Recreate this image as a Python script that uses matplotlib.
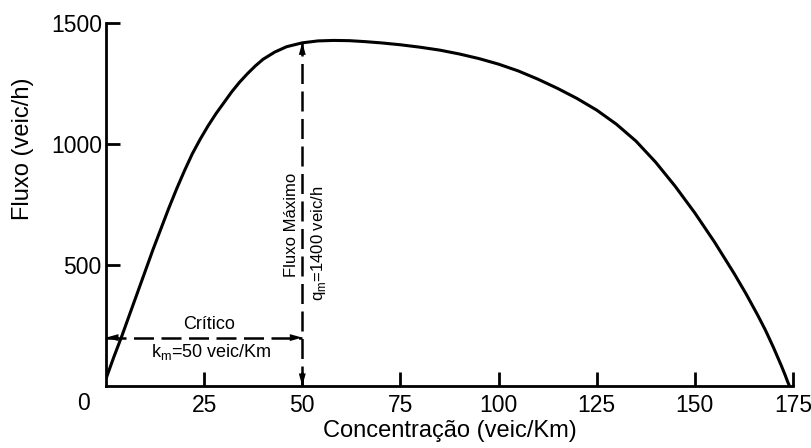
import matplotlib.pyplot as plt

plt.rcParams['font.family'] = ['Liberation Sans', 'DejaVu Sans']

# curva fluxo x concentracao
k = [0, 2, 4, 6, 8, 10, 12, 14, 16, 18, 20, 22, 24, 26, 28, 30, 32, 34, 36, 38,
     40, 43, 46, 50, 54, 58, 62, 66, 70, 75, 80, 85, 90, 95, 100, 105, 110, 115, 120,
     125, 130, 135, 140, 145, 150, 155, 160, 163, 166, 168, 170, 172, 173, 173.7, 174.1]
q = [30, 120, 205, 295, 385, 475, 565, 650, 735, 815, 890, 960, 1020, 1075, 1125, 1170, 1215, 1255, 1290, 1322,
     1350, 1380, 1402, 1418, 1426, 1428, 1427, 1423, 1418, 1410, 1400, 1388, 1372, 1353, 1330, 1302, 1268, 1230, 1188,
     1140, 1082, 1012, 925, 825, 715, 595, 465, 382, 293, 230, 160, 85, 45, 15, 0]

k_m = 50
q_m = 1420
q_crit = 200

x_ticks = [25, 50, 75, 100, 125, 150, 175]
y_ticks = [500, 1000, 1500]

fig = plt.figure(figsize=(8.12, 4.48), dpi=100)
ax = fig.add_axes([106 / 812, 1 - 386 / 448, (793 - 106) / 812, (386 - 23) / 448])

ax.plot(k, q, color='black', lw=2.2, solid_capstyle='butt', solid_joinstyle='round')

# setas tracejadas
ax.plot([k_m, k_m], [0, q_m], color='black', lw=1.8, dashes=(8, 3))
ax.plot([0, k_m], [q_crit, q_crit], color='black', lw=1.8, dashes=(8, 3))
arr = dict(arrowstyle='-|>,head_length=0.9,head_width=0.25', color='black', lw=0, shrinkA=0, shrinkB=0)
ax.annotate('', xy=(k_m, q_m), xytext=(k_m, q_m - 150), arrowprops=arr)
ax.annotate('', xy=(k_m, 0), xytext=(k_m, 150), arrowprops=arr)
ax.annotate('', xy=(0, q_crit), xytext=(6, q_crit), arrowprops=arr)
ax.annotate('', xy=(k_m, q_crit), xytext=(k_m - 6, q_crit), arrowprops=arr)

ax.text(26.3, q_crit + 20, 'Crítico', ha='center', va='bottom', fontsize=13)
ax.text(26.8, q_crit - 20, r'k$_{\mathregular{m}}$=50 veic/Km', ha='center', va='top', fontsize=13)
ax.text(47.3, 665, 'Fluxo Máximo', rotation=90, ha='center', va='center', fontsize=12)
ax.text(54.2, 590, r'q$_{\mathregular{m}}$=1400 veic/h', rotation=90, ha='center', va='center', fontsize=12)

ax.set_xlim(0, 175)
ax.set_ylim(0, 1500)
ax.spines['top'].set_visible(False)
ax.spines['right'].set_visible(False)
for s in ['left', 'bottom']:
    ax.spines[s].set_linewidth(2)
ax.set_xticks(x_ticks)
ax.set_yticks(y_ticks)
ax.tick_params(direction='in', length=10, width=2, labelsize=16.5)
ax.tick_params(axis='x', pad=6)
ax.tick_params(axis='y', pad=3)
ax.text(-4, -25, '0', ha='right', va='top', fontsize=16.5)

ax.set_xlabel('Concentração (veic/Km)', fontsize=17, labelpad=2)
ax.set_ylabel('Fluxo (veic/h)', fontsize=17)
ax.yaxis.set_label_coords(-0.105, 0.653)

fig.savefig('out.png', dpi=100)
